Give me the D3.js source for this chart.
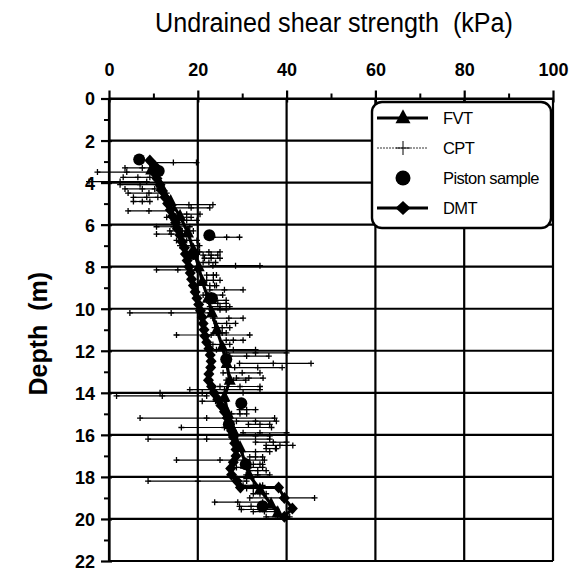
<!DOCTYPE html>
<html>
<head>
<meta charset="utf-8">
<script src="https://cdn.jsdelivr.net/npm/d3@7"></script>
<style>
  body { margin: 0; background: #fff; }
  svg { display: block; }
  text.pre { white-space: pre; }
</style>
</head>
<body>
<svg id="chart" width="574" height="573"></svg>
<script>
// Axis ticks
const suTicks = [0, 20, 40, 60, 80, 100];
const suMinorTicks = [10, 30, 50, 70, 90];
const depthTicks = [0, 2, 4, 6, 8, 10, 12, 14, 16, 18, 20, 22];
const depthMinorTicks = [1, 3, 5, 7, 9, 11, 13, 15, 17, 19, 21];

// Field vane tests
const fvtDepth = [3.4, 4.2, 4.9, 5.6, 6.4, 7.2, 8.0, 8.7, 9.5, 10.2, 11.0, 11.8, 12.6, 13.4, 14.2, 15.0, 15.8, 16.6, 17.4, 17.9, 18.6, 19.3, 19.7];
const fvtSu    = [9.5, 11.8, 13.9, 16.0, 17.8, 19.0, 20.2, 21.0, 22.3, 23.2, 24.3, 25.5, 26.5, 27.2, 26.0, 26.8, 28.0, 29.5, 30.8, 31.5, 34.0, 36.5, 38.0];

// Flat dilatometer
const dmtDepth = [2.95, 3.2, 3.5, 3.8, 4.1, 4.4, 4.7, 5.0, 5.3, 5.6, 5.9, 6.2, 6.5, 6.8, 7.1, 7.4, 7.7, 8.0, 8.3, 8.6, 8.9, 9.2, 9.5, 9.8, 10.1, 10.4, 10.7, 11.0, 11.3, 11.6, 11.9, 12.2, 12.5, 12.8, 13.1, 13.4, 13.7, 14.0, 14.3, 14.6, 14.9, 15.2, 15.5, 15.8, 16.1, 16.4, 16.7, 17.0, 17.3, 17.6, 17.9, 18.2, 18.5, 18.5, 19.0, 19.5, 19.9];
const dmtSu    = [9.2, 10.3, 10.0, 10.8, 11.5, 12.0, 12.6, 13.2, 13.8, 14.3, 15.0, 15.4, 16.0, 16.4, 17.0, 17.2, 17.6, 18.0, 18.3, 18.6, 19.0, 19.4, 19.8, 20.2, 20.6, 21.0, 21.2, 21.4, 21.6, 22.0, 22.5, 22.8, 23.0, 22.9, 22.5, 22.4, 23.1, 23.6, 24.5, 25.2, 26.0, 26.7, 27.1, 27.6, 28.0, 28.3, 28.6, 28.6, 28.0, 27.4, 27.6, 28.8, 29.6, 38.2, 39.5, 41.3, 39.5];

// Piston samples (laboratory)
const pistonDepth = [2.9, 3.45, 6.5, 7.4, 9.5, 12.4, 14.5, 15.5, 17.4, 19.4];
const pistonSu    = [6.8, 11.2, 22.6, 19.0, 23.2, 26.4, 29.8, 27.0, 30.8, 34.6];

// Cone penetration: range of interpreted strength at each depth
const cptDepth = [3.05, 3.3, 3.5, 3.75, 3.95, 4.1, 4.3, 4.5, 4.7, 4.9, 5.05, 5.2, 5.35, 5.5, 5.65, 5.8, 6.1, 6.3, 6.45, 6.6, 6.75, 7.0, 7.3, 7.45, 7.6, 7.8, 7.95, 8.15, 8.4, 8.65, 8.9, 9.1, 9.35, 9.6, 9.75, 9.9, 10.05, 10.2, 10.45, 10.7, 10.9, 11.15, 11.25, 11.5, 11.7, 11.95, 12.1, 12.25, 12.6, 12.8, 13.05, 13.3, 13.4, 13.7, 13.85, 14.0, 14.15, 14.4, 14.8, 15.0, 15.2, 15.35, 15.5, 15.65, 15.9, 16.05, 16.2, 16.35, 16.5, 16.65, 16.8, 17.05, 17.2, 17.4, 17.55, 17.7, 17.9, 18.2, 18.4, 18.55, 18.8, 19.0, 19.2, 19.4, 19.55, 19.65, 19.9];
const cptLow  = [9.2, 3.6, -2.6, 3.2, -4.5, 2.5, 3.6, 4.3, 5.5, 5.5, 13.0, 14.0, 4.3, 14.5, 13.0, 14.5, 10.7, 13.7, 10.7, 23.4, 15.2, 16.0, 20.4, 21.2, 21.5, 21.2, 23.4, 10.7, 22.0, 22.0, 22.7, 22.7, 21.2, 22.0, 22.7, 22.7, 23.0, 4.7, 23.4, 24.2, 23.8, 24.2, 15.2, 26.4, 23.4, 24.2, 26.4, 27.2, 29.4, 28.3, 25.7, 28.7, 26.4, 25.0, 18.2, 11.5, 1.7, 21.0, 29.4, 27.6, 7.0, 28.7, 31.4, 16.3, 30.2, 28.7, 8.8, 33.0, 35.4, 35.4, 30.2, 31.7, 15.2, 32.5, 28.7, 31.7, 30.9, 8.8, 30.2, 31.0, 32.5, 31.7, 23.8, 29.4, 29.8, 32.5, 35.4];
const cptMid  = [14.5, 7.5, 4.0, 6.5, 2.5, 7.0, 7.5, 9.0, 8.5, 7.5, 18.0, 18.5, 9.0, 17.5, 16.0, 17.5, 14.5, 16.5, 14.0, 26.5, 17.5, 18.5, 22.5, 23.0, 23.0, 22.5, 28.5, 15.5, 23.5, 23.5, 23.8, 26.0, 23.0, 24.0, 24.5, 25.0, 25.0, 14.0, 27.0, 26.5, 25.5, 25.5, 23.0, 28.0, 25.5, 28.0, 33.0, 31.0, 37.0, 33.5, 30.0, 31.5, 28.0, 29.5, 26.0, 21.0, 12.0, 24.0, 31.0, 29.5, 22.0, 33.0, 34.0, 26.0, 34.0, 33.0, 22.0, 37.0, 38.5, 37.5, 33.0, 33.0, 25.0, 34.0, 31.5, 33.5, 33.5, 20.0, 32.5, 32.5, 34.0, 39.0, 29.0, 32.0, 34.0, 35.0, 38.0];
const cptHigh = [19.7, 10.7, 9.9, 9.2, 8.5, 10.7, 10.3, 13.0, 11.0, 9.2, 23.4, 22.7, 13.7, 20.5, 18.5, 19.8, 18.2, 19.0, 17.0, 29.4, 19.8, 20.4, 25.0, 24.5, 25.0, 24.0, 34.0, 19.7, 24.2, 25.0, 24.2, 30.2, 25.6, 26.4, 26.4, 27.2, 26.4, 22.7, 30.2, 28.5, 27.2, 26.4, 31.7, 30.2, 27.2, 33.0, 40.0, 36.0, 45.5, 39.0, 34.0, 34.7, 30.8, 34.0, 34.0, 30.2, 22.0, 26.4, 33.0, 31.0, 37.3, 37.7, 36.2, 36.6, 40.0, 36.2, 36.2, 40.0, 41.4, 37.7, 36.2, 34.6, 35.0, 34.6, 34.6, 35.4, 36.2, 31.0, 34.6, 33.9, 35.4, 46.3, 34.6, 34.6, 37.7, 37.7, 40.7];

const legendLabels = ["FVT", "CPT", "Piston sample", "DMT"];

const svg = d3.select("#chart");
const x = d3.scaleLinear().domain([0, 100]).range([109, 553]);
const y = d3.scaleLinear().domain([0, 22]).range([98.5, 561]);

// marker shapes
const diamondPath = (w, h) => `M0,${-h}L${w},0L0,${h}L${-w},0Z`;
const trianglePath = (w, h) => `M0,${-h * 0.62}L${w},${h * 0.38}L${-w},${h * 0.38}Z`;
const plusPath = s => `M${-s},0H${s}M0,${-s}V${s}`;

// grid
const grid = svg.append("g").attr("stroke", "#000").attr("stroke-width", 2.2);
grid.selectAll(".gv").data(suTicks).join("line")
  .attr("x1", d => x(d)).attr("x2", d => x(d))
  .attr("y1", y(0)).attr("y2", y(22));
grid.selectAll(".gh").data(depthTicks).join("line")
  .attr("x1", x(0)).attr("x2", x(100))
  .attr("y1", d => y(d)).attr("y2", d => y(d));

// CPT ranges
const cpt = svg.append("g").attr("fill", "none").attr("stroke", "#000");
const cptRows = cptDepth.map((d, i) => ({ d, v: [cptLow[i], cptMid[i], cptHigh[i]] }));
cpt.selectAll("line").data(cptRows).join("line")
  .attr("x1", r => x(r.v[0])).attr("x2", r => x(r.v[2]))
  .attr("y1", r => y(r.d)).attr("y2", r => y(r.d))
  .attr("stroke-width", 1.2);
cpt.selectAll("path").data(cptRows.flatMap(r => r.v.map(v => ({ d: r.d, v })))).join("path")
  .attr("d", plusPath(3))
  .attr("transform", p => `translate(${x(p.v)},${y(p.d)})`)
  .attr("stroke-width", 1.3);

const line = d3.line().x(p => x(p.su)).y(p => y(p.d));

// DMT profile
const dmt = dmtDepth.map((d, i) => ({ d, su: dmtSu[i] }));
svg.append("path").datum(dmt).attr("d", line)
  .attr("fill", "none").attr("stroke", "#000").attr("stroke-width", 3);
svg.append("g").selectAll("path").data(dmt).join("path")
  .attr("d", diamondPath(5.5, 6))
  .attr("transform", p => `translate(${x(p.su)},${y(p.d)})`)
  .attr("fill", "#000");

// FVT profile
const fvt = fvtDepth.map((d, i) => ({ d, su: fvtSu[i] }));
svg.append("path").datum(fvt).attr("d", line)
  .attr("fill", "none").attr("stroke", "#000").attr("stroke-width", 3.2);
svg.append("g").selectAll("path").data(fvt).join("path")
  .attr("d", trianglePath(6, 12))
  .attr("transform", p => `translate(${x(p.su)},${y(p.d)})`)
  .attr("fill", "#000");

// Piston samples
svg.append("g").selectAll("circle").data(pistonDepth.map((d, i) => ({ d, su: pistonSu[i] }))).join("circle")
  .attr("cx", p => x(p.su)).attr("cy", p => y(p.d)).attr("r", 6)
  .attr("fill", "#000");

// axes
const tickFont = "'Liberation Sans', Arial, sans-serif";
const xAxis = svg.append("g").attr("transform", `translate(0,${y(0)})`)
  .call(d3.axisTop(x).tickValues(suTicks).tickSize(8).tickSizeOuter(0));
xAxis.select(".domain").attr("stroke-width", 2.2);
xAxis.selectAll(".tick line").attr("y1", 4).attr("y2", -8).attr("stroke-width", 2.2);
xAxis.selectAll(".tick text").attr("y", -23).attr("dy", 0)
  .attr("font-family", tickFont).attr("font-size", 18).attr("font-weight", "bold").attr("fill", "#000");
svg.append("g").attr("transform", `translate(0,${y(0)})`)
  .call(d3.axisTop(x).tickValues(suMinorTicks).tickSize(5).tickSizeOuter(0).tickFormat(""))
  .call(g => g.select(".domain").remove())
  .selectAll(".tick line").attr("stroke-width", 2);

const yAxis = svg.append("g").attr("transform", `translate(${x(0)},0)`)
  .call(d3.axisLeft(y).tickValues(depthTicks).tickSize(8).tickSizeOuter(0));
yAxis.select(".domain").attr("stroke-width", 2.2);
yAxis.selectAll(".tick line").attr("x1", 3).attr("x2", -8).attr("stroke-width", 2.2);
yAxis.selectAll(".tick text").attr("x", -14).attr("dy", "0.36em")
  .attr("font-family", tickFont).attr("font-size", 18).attr("font-weight", "bold").attr("fill", "#000");
svg.append("g").attr("transform", `translate(${x(0)},0)`)
  .call(d3.axisLeft(y).tickValues(depthMinorTicks).tickSize(5).tickSizeOuter(0).tickFormat(""))
  .call(g => g.select(".domain").remove())
  .selectAll(".tick line").attr("stroke-width", 2);

// titles
svg.append("text").attr("class", "pre").attr("x", 155).attr("y", 32)
  .attr("textLength", 358).attr("lengthAdjust", "spacingAndGlyphs")
  .attr("font-family", tickFont).attr("font-size", 27).attr("fill", "#000")
  .text("Undrained shear strength  (kPa)");
svg.append("text").attr("class", "pre")
  .attr("transform", `translate(47,${(y(0) + y(22)) / 2 + 4}) rotate(-90)`)
  .attr("text-anchor", "middle")
  .attr("font-family", tickFont).attr("font-size", 25).attr("font-weight", "bold").attr("fill", "#000")
  .text("Depth  (m)");

// legend
const lg = svg.append("g");
lg.append("rect").attr("x", 372).attr("y", 102).attr("width", 179).attr("height", 126)
  .attr("rx", 10).attr("fill", "#fff").attr("stroke", "#000").attr("stroke-width", 2.4);
const rowY = [118, 148, 178, 208];
const sx0 = 377, sx1 = 428, sxm = 403;
legendLabels.forEach((label, i) => {
  const yy = rowY[i];
  const g = lg.append("g");
  if (i === 0 || i === 3) {
    g.append("line").attr("x1", sx0).attr("x2", sx1).attr("y1", yy).attr("y2", yy)
      .attr("stroke", "#000").attr("stroke-width", 3);
  }
  if (i === 0) g.append("path").attr("d", trianglePath(7.5, 14)).attr("transform", `translate(${sxm},${yy})`).attr("fill", "#000");
  if (i === 1) {
    g.append("line").attr("x1", sx0).attr("x2", sx1).attr("y1", yy).attr("y2", yy)
      .attr("stroke", "#000").attr("stroke-width", 0.8).attr("stroke-dasharray", "2,1");
    g.append("path").attr("d", plusPath(7)).attr("transform", `translate(${sxm},${yy})`)
      .attr("stroke", "#000").attr("stroke-width", 1);
  }
  if (i === 2) g.append("circle").attr("cx", sxm).attr("cy", yy).attr("r", 7.5).attr("fill", "#000");
  if (i === 3) g.append("path").attr("d", diamondPath(7.5, 7)).attr("transform", `translate(${sxm},${yy})`).attr("fill", "#000");
  g.append("text").attr("x", 443).attr("y", yy + 6)
    .attr("font-family", tickFont).attr("font-size", 16.5).attr("letter-spacing", -0.6).attr("fill", "#000")
    .text(label);
});
</script>
</body>
</html>
